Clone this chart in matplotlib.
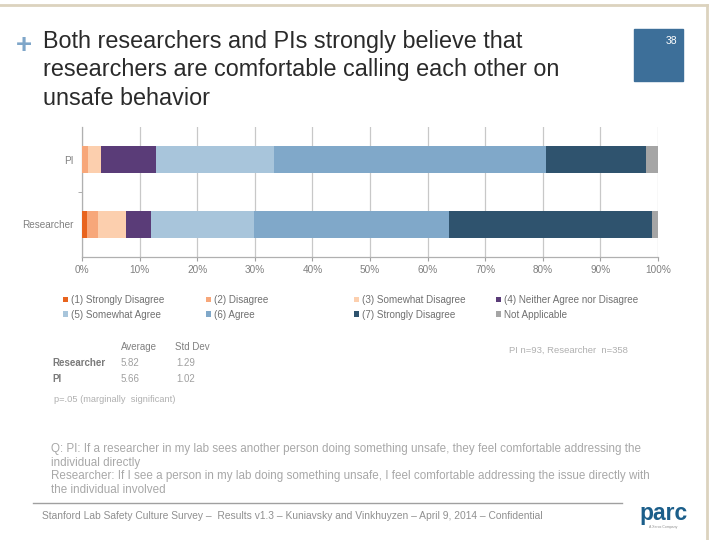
import matplotlib
matplotlib.use('Agg')
import matplotlib.pyplot as plt
from matplotlib.patches import Rectangle
from matplotlib.lines import Line2D

# data (percent of respondents)
categories = ['Researcher', 'PI']
responses = ['(1) Strongly Disagree', '(2) Disagree', '(3) Somewhat Disagree',
             '(4) Neither Agree nor Disagree', '(5) Somewhat Agree', '(6) Agree',
             '(7) Strongly Disagree', 'Not Applicable']
researcher = [0.9, 1.9, 4.9, 4.2, 18.0, 33.8, 35.2, 1.1]
pi = [0.0, 1.1, 2.2, 9.5, 20.6, 47.2, 17.3, 2.1]
xticks = [0, 10, 20, 30, 40, 50, 60, 70, 80, 90, 100]
colors = ['#E8641E', '#F7A77A', '#FCCFAE', '#5A3C78',
          '#A8C5DB', '#80A8C9', '#2F536E', '#A5A5A5']

stats_rows = ['Researcher', 'PI']
averages = ['5.82', '5.66']
std_devs = ['1.29', '1.02']

W, H = 717, 540
plt.rcParams['font.family'] = ['Liberation Sans', 'DejaVu Sans']
fig = plt.figure(figsize=(W / 100, H / 100), dpi=100)
fig.patch.set_facecolor('white')


def fx(px):
    return px / W


def fy(py):
    return 1 - py / H


# slide frame
fig.add_artist(Line2D([0, fx(707)], [fy(5), fy(5)], color='#DCD3BE', lw=2))
fig.add_artist(Line2D([fx(707), fx(707)], [fy(5), 0], color='#DCD3BE', lw=2))

# title
fig.text(fx(24), fy(46), '+', color='#7FA6C9', fontsize=20, fontweight='bold',
         ha='center', va='center')
title_lines = ['Both researchers and PIs strongly believe that',
               'researchers are comfortable calling each other on',
               'unsafe behavior']
for i, line in enumerate(title_lines):
    fig.text(fx(43), fy(48 + i * 28.5), line, fontsize=16.8, color='#2A2A2A',
             va='baseline', ha='left')

# page number box
fig.add_artist(Rectangle((fx(634), fy(81)), fx(49), 52 / H, color='#3D6F99',
                         transform=fig.transFigure))
fig.text(fx(677), fy(41), '38', color='white', fontsize=7.5, ha='right', va='center')

# chart
ax = fig.add_axes([fx(82), fy(257), fx(658 - 82), 130 / H])
data = [researcher, pi]
handles = []
lefts = [0.0, 0.0]
for k in range(len(responses)):
    vals = [row[k] for row in data]
    b = ax.barh([0, 1], vals, left=lefts, height=0.41, color=colors[k],
                label=responses[k], zorder=3)
    handles.append(b)
    lefts = [l + v for l, v in zip(lefts, vals)]

ax.set_xlim(0, 100)
ax.set_ylim(-0.5, 1.5)
ax.set_xticks(xticks)
ax.set_xticklabels([f'{t}%' for t in xticks])
ax.set_yticks([0, 1])
ax.set_yticklabels(categories)
ax.set_yticks([0.5], minor=True)
ax.tick_params(axis='y', which='major', length=0, pad=6, labelsize=7.2, labelcolor='#808080')
ax.tick_params(axis='y', which='minor', length=3, color='#A0A0A0')
ax.tick_params(axis='x', length=3, color='#A0A0A0', labelsize=7.2, labelcolor='#808080', pad=3)
ax.grid(axis='x', color='#C8C8C8', lw=0.9, zorder=0)
for s in ['top', 'right']:
    ax.spines[s].set_visible(False)
for s in ['left', 'bottom']:
    ax.spines[s].set_color('#B0B0B0')
    ax.spines[s].set_linewidth(0.9)

# legend in four columns
col_x = [63, 206, 354, 496]
for c in range(4):
    leg = fig.legend([handles[c], handles[c + 4]], [responses[c], responses[c + 4]],
                     loc='upper left', bbox_to_anchor=(fx(col_x[c]), fy(295)),
                     frameon=False, fontsize=7.1, handlelength=0.55, handleheight=0.55,
                     handletextpad=0.3, labelspacing=0.5, borderpad=0, borderaxespad=0,
                     labelcolor='#707070')

# stats table
fig.text(fx(121), fy(347), 'Average', fontsize=7, color='#808080', va='center')
fig.text(fx(175), fy(347), 'Std Dev', fontsize=7, color='#808080', va='center')
for i, name in enumerate(stats_rows):
    y = fy(363 + i * 16)
    fig.text(fx(52), y, name, fontsize=7, color='#7A7A7A', fontweight='bold', va='center')
    fig.text(fx(121), y, averages[i], fontsize=7, color='#A0A0A0', va='center')
    fig.text(fx(176), y, std_devs[i], fontsize=7, color='#A0A0A0', va='center')
fig.text(fx(54), fy(399), 'p=.05 (marginally  significant)', fontsize=6.7,
         color='#B0B0B0', va='center')
fig.text(fx(509), fy(350), 'PI n=93, Researcher  n=358', fontsize=6.8,
         color='#B0B0B0', va='center')

# question text
q_lines = ['Q: PI: If a researcher in my lab sees another person doing something unsafe, they feel comfortable addressing the',
           'individual directly',
           'Researcher: If I see a person in my lab doing something unsafe, I feel comfortable addressing the issue directly with',
           'the individual involved']
for i, line in enumerate(q_lines):
    fig.text(fx(51), fy(449 + i * 13.7), line, fontsize=8.4, color='#A8A8A8', va='center')

# footer
fig.add_artist(Line2D([fx(33), fx(622)], [fy(503), fy(503)], color='#A0A0A0', lw=1))
fig.text(fx(42), fy(516), 'Stanford Lab Safety Culture Survey \u2013  Results v1.3 \u2013 Kuniavsky and Vinkhuyzen \u2013 April 9, 2014 \u2013 Confidential',
         fontsize=7.4, color='#909090', va='center')
fig.text(fx(639), fy(520), 'parc', fontsize=16.5, fontweight='bold', color='#1B5E8A',
         va='baseline', ha='left')
fig.text(fx(663), fy(527), 'A Xerox Company', fontsize=2.5, color='#909090',
         va='center', ha='center')

fig.savefig('out.png', dpi=100)
